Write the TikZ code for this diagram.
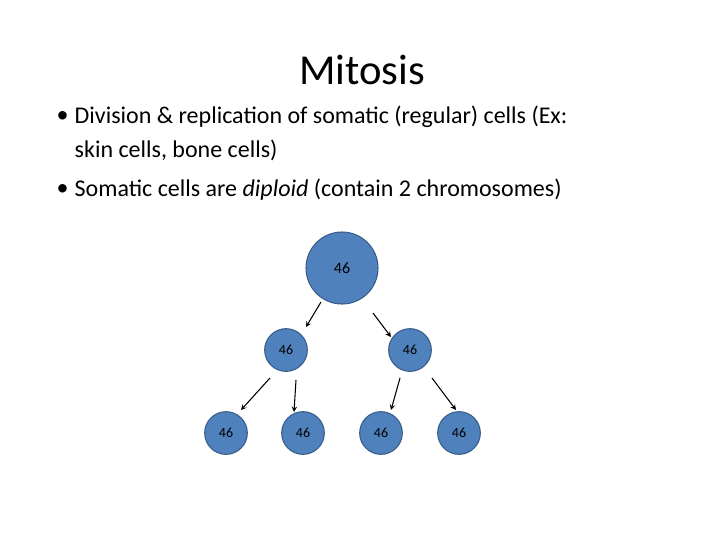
\documentclass[tikz,border=0pt]{standalone}
\usepackage{fontspec}
\setmainfont{Carlito}
\begin{document}
\begin{tikzpicture}[x=0.75pt,y=-0.75pt,
 cell/.style={circle,fill=cellfill,draw=celldraw,line width=0.8pt,inner sep=0pt,font=\fontsize{10.5}{12}\selectfont},
 arr/.style={-stealth,line width=0.8pt}]
\definecolor{cellfill}{HTML}{4F81BD}
\definecolor{celldraw}{HTML}{385D8A}
\useasboundingbox (0,0) rectangle (720,540);
\node (title) at (362,70) {\fontsize{32}{38}\selectfont Mitosis};
\node[anchor=north west,text width=600\pgflinewidth,align=left,font=\fontsize{18}{24}\selectfont] (b1) at (48,101) {};
\node[anchor=west,font=\fontsize{18}{22}\selectfont] (d1) at (52,117) {•};
\node[anchor=west,font=\fontsize{18}{22}\selectfont] (t1) at (70,117) {Division \& replication of somatic (regular) cells (Ex:};
\node[anchor=west,font=\fontsize{18}{22}\selectfont] (t2) at (70,150) {skin cells, bone cells)};
\node[anchor=west,font=\fontsize{18}{22}\selectfont] (d2) at (52,190) {•};
\node[anchor=west,font=\fontsize{18}{22}\selectfont] (t3) at (70,190) {Somatic cells are \emph{diploid} (contain 2 chromosomes)};
\node[cell,minimum size=54pt,font=\fontsize{12}{14}\selectfont] (c0) at (342,268) {46};
\node[cell,minimum size=32pt] (c1) at (286,350) {46};
\node[cell,minimum size=32pt] (c2) at (410,350) {46};
\node[cell,minimum size=32pt] (c3) at (226,433) {46};
\node[cell,minimum size=32pt] (c4) at (303,433) {46};
\node[cell,minimum size=32pt] (c5) at (381,433) {46};
\node[cell,minimum size=32pt] (c6) at (459,433) {46};
\coordinate (a0s) at (321,302); \coordinate (a0e) at (306,327);
\coordinate (b0s) at (373,313); \coordinate (b0e) at (391,337);
\coordinate (a1s) at (270,378); \coordinate (a1e) at (241,410);
\coordinate (b1s) at (296,380); \coordinate (b1e) at (294,412);
\coordinate (a2s) at (400,378); \coordinate (a2e) at (391,410);
\coordinate (b2s) at (432,378); \coordinate (b2e) at (456,410);
\foreach \p in {a0,b0,a1,b1,a2,b2} \draw[arr] (\p s) -- (\p e);
\end{tikzpicture}
\end{document}
